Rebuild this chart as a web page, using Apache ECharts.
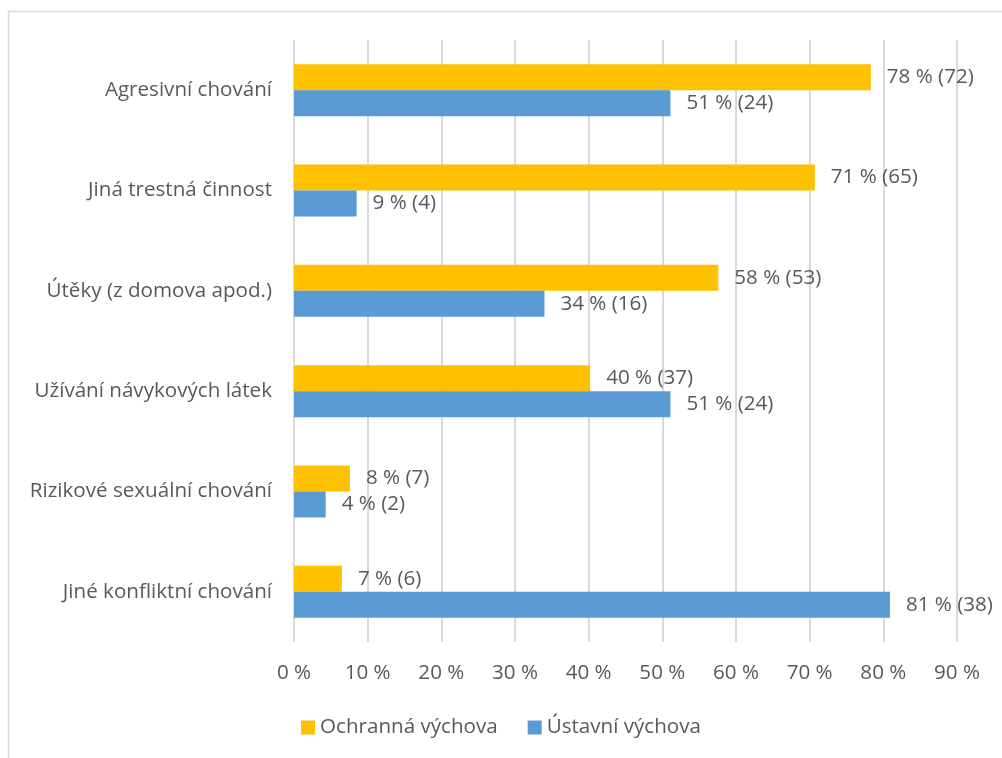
<!DOCTYPE html>
<html>
<head>
<meta charset="utf-8">
<script src="https://cdn.jsdelivr.net/npm/echarts@6/dist/echarts.min.js"></script>
<style>
html,body{margin:0;padding:0;background:#fff;}
#chart{width:1002px;height:758px;}
</style>
</head>
<body>
<div id="chart"></div>
<script>
const categories = ["Agresivní chování","Jiná trestná činnost","Útěky (z domova apod.)","Užívání návykových látek","Rizikové sexuální chování","Jiné konfliktní chování"];
const ochrannaPct = [78.3, 70.7, 57.6, 40.2, 7.6, 6.5];
const ochrannaCount = [72, 65, 53, 37, 7, 6];
const ustavniPct = [51.1, 8.5, 34.0, 51.1, 4.3, 80.9];
const ustavniCount = [24, 4, 16, 24, 2, 38];
const xTicks = [0,10,20,30,40,50,60,70,80,90];

const FONT = "'Open Sans', sans-serif";
const FS = 20.6;
const TXT = '#595959';
const chart = echarts.init(document.getElementById('chart'));
function lbl(counts){
  return {show:true, position:'right', distance:16, color:TXT, fontSize:FS, fontFamily:FONT,
    formatter: p => Math.round(p.value) + ' % (' + counts[p.dataIndex] + ')'};
}
chart.setOption({
  animation:false,
  textStyle:{fontFamily:FONT},
  graphic:[{type:'rect', shape:{x:8.5,y:11.5,width:1010,height:770}, style:{fill:null, stroke:'#d9d9d9', lineWidth:1.5}}],
  grid:{left:294, right:45, top:40, bottom:116, containLabel:false},
  legend:{bottom:15, left:'center', itemWidth:14, itemHeight:14, itemGap:30, icon:'rect',
    textStyle:{color:TXT, fontSize:FS, fontFamily:FONT},
    data:['Ochranná výchova','Ústavní výchova']},
  xAxis:{type:'value', min:0, max:90, interval:10,
    axisLabel:{color:TXT, fontSize:FS, fontFamily:FONT, margin:21, formatter: v => v + ' %'},
    splitLine:{lineStyle:{color:'#d9d9d9', width:2}},
    axisLine:{show:false}, axisTick:{show:false}},
  yAxis:{type:'category', data:categories, inverse:true,
    axisLabel:{color:TXT, fontSize:FS, fontFamily:FONT, margin:22},
    axisLine:{show:false}, axisTick:{show:false}},
  series:[
    {name:'Ochranná výchova', type:'bar', data:ochrannaPct, itemStyle:{color:'#FFC000'}, barWidth:26, barGap:'0%', label:lbl(ochrannaCount)},
    {name:'Ústavní výchova', type:'bar', data:ustavniPct, itemStyle:{color:'#5B9BD5'}, barWidth:26, barGap:'0%', label:lbl(ustavniCount)}
  ]
});
</script>
</body>
</html>
